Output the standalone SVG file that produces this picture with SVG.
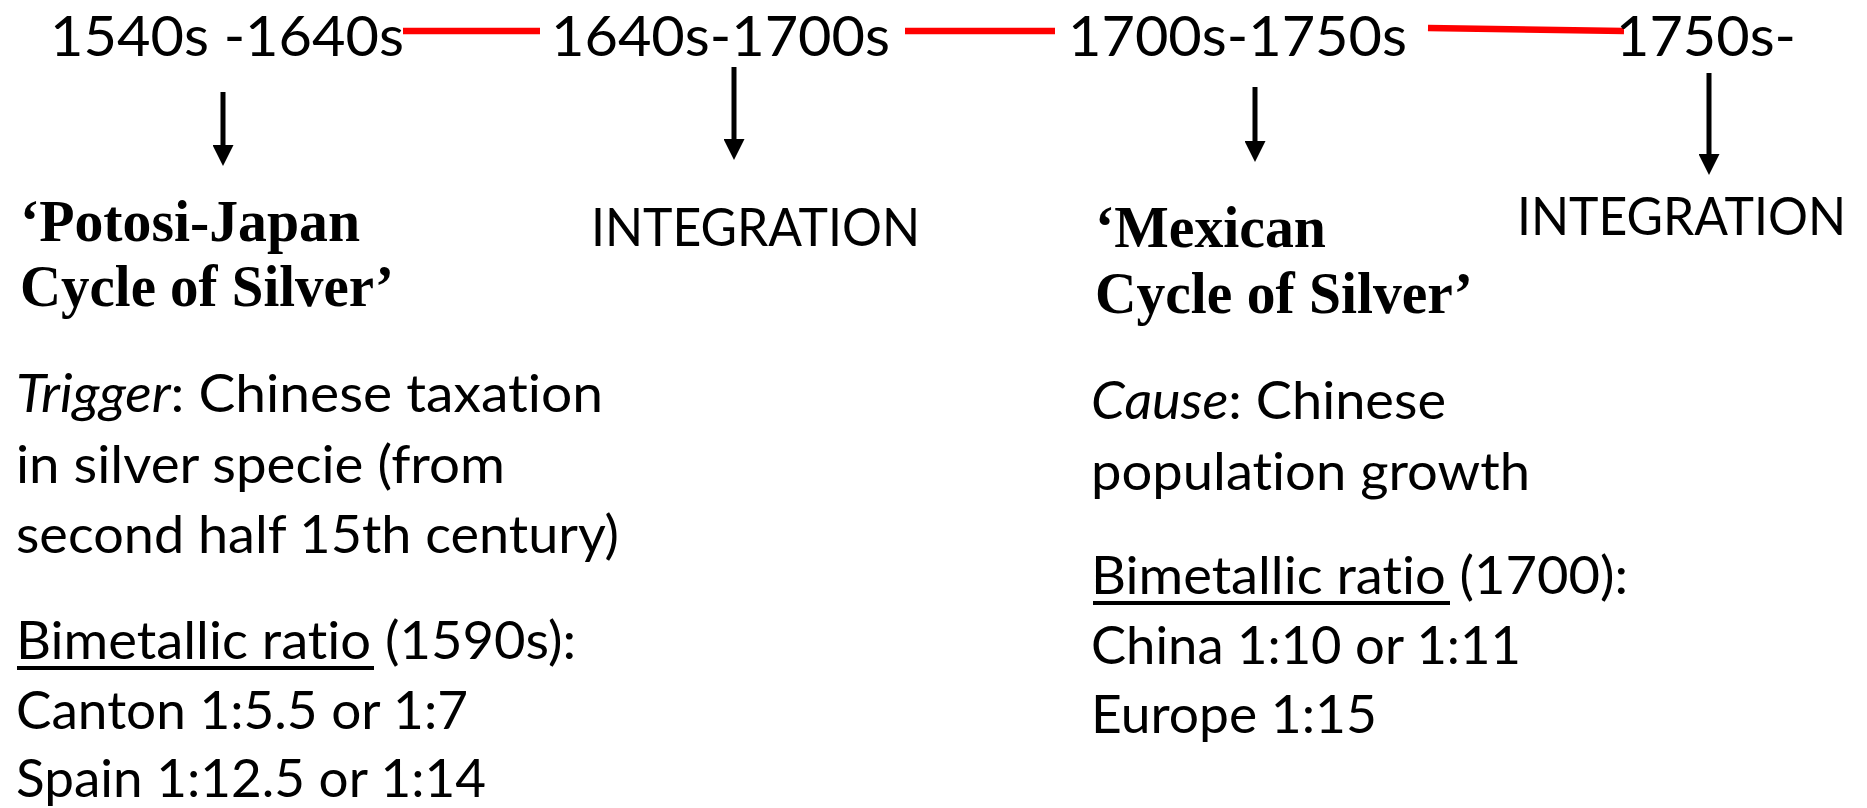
<svg xmlns="http://www.w3.org/2000/svg" width="1867" height="808" viewBox="0 0 1867 808">
  <defs>
    <marker id="head" markerUnits="userSpaceOnUse" markerWidth="21" markerHeight="21" viewBox="0 0 21 21" refX="0" refY="10.5" orient="auto">
      <path d="M0,0 L21,10.5 L0,21 Z" fill="#000"/>
    </marker>
    <style>
      text { font-variant-ligatures: none; font-feature-settings: "liga" 0, "clig" 0; }
      .period { font-family: "Lato", "Open Sans", sans-serif; font-size: 56px; fill: #000; }
      .body { font-family: "Lato", "Open Sans", sans-serif; font-size: 52px; fill: #000; }
      .title { font-family: "Liberation Serif", "Times New Roman", serif; font-size: 60px; font-weight: bold; fill: #000; }
      .it { font-style: italic; }
      .timeline { stroke: #ff0000; stroke-width: 6.5; fill: none; }
      .arrow { stroke: #000; stroke-width: 5; fill: none; marker-end: url(#head); }
      .uline { stroke: #000; stroke-width: 4; }
    </style>
  </defs>
  <rect width="1867" height="808" fill="#fff"/>

  <g id="connectors">
    <line class="timeline" x1="403" y1="31" x2="540" y2="31"/>
    <line class="timeline" x1="905" y1="31" x2="1055" y2="31"/>
    <line class="timeline" x1="1428" y1="28" x2="1624" y2="31"/>
    <line class="arrow" x1="223" y1="92" x2="223" y2="145"/>
    <line class="arrow" x1="734" y1="67" x2="734" y2="139"/>
    <line class="arrow" x1="1255" y1="87" x2="1255" y2="141"/>
    <line class="arrow" x1="1709" y1="73" x2="1709" y2="154"/>
  </g>

  <g id="period-1540">
    <text class="period" x="50" y="55.8" textLength="354" lengthAdjust="spacingAndGlyphs">1540s -1640s</text>
  </g>
  <g id="period-1640">
    <text class="period" x="551" y="55.8" textLength="339" lengthAdjust="spacingAndGlyphs">1640s-1700s</text>
  </g>
  <g id="period-1700">
    <text class="period" x="1068" y="55.8" textLength="339" lengthAdjust="spacingAndGlyphs">1700s-1750s</text>
  </g>
  <g id="period-1750">
    <text class="period" x="1616" y="55.8" textLength="180" lengthAdjust="spacingAndGlyphs">1750s-</text>
  </g>

  <g id="potosi-japan-cycle">
    <text class="title" x="20" y="241" textLength="340" lengthAdjust="spacingAndGlyphs">‘Potosi-Japan</text>
    <text class="title" x="20" y="306" textLength="374" lengthAdjust="spacingAndGlyphs">Cycle of Silver’</text>
    <text class="body" x="16" y="412" textLength="587" lengthAdjust="spacingAndGlyphs"><tspan class="it">Trigger</tspan>: Chinese taxation</text>
    <text class="body" x="16" y="483" textLength="489" lengthAdjust="spacingAndGlyphs">in silver specie (from</text>
    <text class="body" x="16" y="553" textLength="603" lengthAdjust="spacingAndGlyphs">second half 15th century)</text>
    <text class="body" x="16" y="659" textLength="560" lengthAdjust="spacingAndGlyphs">Bimetallic ratio (1590s):</text>
    <line class="uline" x1="17" y1="668" x2="374" y2="668"/>
    <text class="body" x="16" y="729" textLength="452" lengthAdjust="spacingAndGlyphs">Canton 1:5.5 or 1:7</text>
    <text class="body" x="16" y="797" textLength="470" lengthAdjust="spacingAndGlyphs">Spain 1:12.5 or 1:14</text>
  </g>

  <g id="integration-1">
    <text class="body" x="591" y="246" textLength="329" lengthAdjust="spacingAndGlyphs">INTEGRATION</text>
  </g>

  <g id="mexican-cycle">
    <text class="title" x="1095" y="247" textLength="231" lengthAdjust="spacingAndGlyphs">‘Mexican</text>
    <text class="title" x="1095" y="313" textLength="378" lengthAdjust="spacingAndGlyphs">Cycle of Silver’</text>
    <text class="body" x="1091" y="419" textLength="355" lengthAdjust="spacingAndGlyphs"><tspan class="it">Cause</tspan>: Chinese</text>
    <text class="body" x="1091" y="490" textLength="439" lengthAdjust="spacingAndGlyphs">population growth</text>
    <text class="body" x="1091" y="594" textLength="537" lengthAdjust="spacingAndGlyphs">Bimetallic ratio (1700):</text>
    <line class="uline" x1="1093" y1="603" x2="1450" y2="603"/>
    <text class="body" x="1091" y="664" textLength="430" lengthAdjust="spacingAndGlyphs">China 1:10 or 1:11</text>
    <text class="body" x="1091" y="733" textLength="286" lengthAdjust="spacingAndGlyphs">Europe 1:15</text>
  </g>

  <g id="integration-2">
    <text class="body" x="1517" y="235" textLength="329" lengthAdjust="spacingAndGlyphs">INTEGRATION</text>
  </g>
</svg>
